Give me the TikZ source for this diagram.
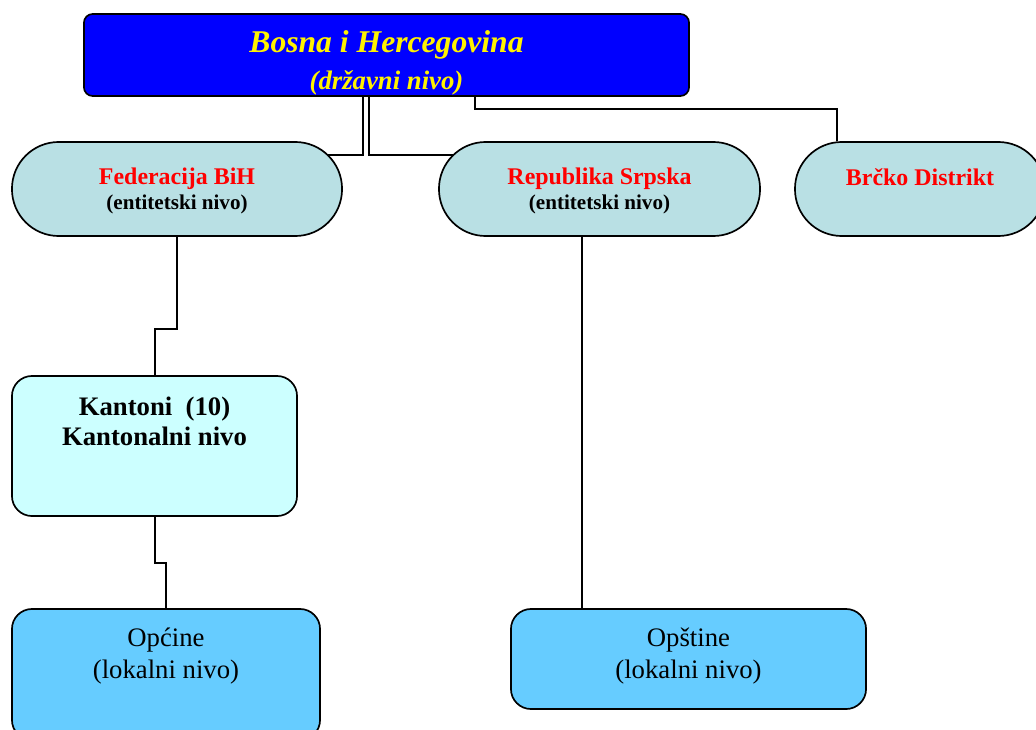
\documentclass[tikz,border=0pt]{standalone}
\usepackage{fontspec}
\setmainfont{Liberation Serif}
\usetikzlibrary{backgrounds}
\definecolor{stateblue}{RGB}{0,0,255}
\definecolor{entityfill}{RGB}{185,224,228}
\definecolor{cantonfill}{RGB}{204,255,255}
\definecolor{localfill}{RGB}{102,204,255}
\tikzset{
  box/.style={draw=black, line width=1.2pt, align=center, inner sep=0pt},
  entity/.style={box, fill=entityfill, minimum height=2.35cm, rounded corners=1.17cm,
    font=\bfseries},
  local/.style={box, fill=localfill, rounded corners=0.5cm,
    font=\fontsize{19}{22.5}\selectfont},
  conn/.style={draw=black, line width=0.9pt},
}
\newcommand{\entname}[1]{{\color{red}\fontsize{17}{19}\selectfont\rule{0pt}{15pt}#1}}
\newcommand{\entlevel}[1]{{\fontsize{15}{17}\selectfont #1}}
\begin{document}
\begin{tikzpicture}[x=0.025cm, y=-0.025cm]
            \useasboundingbox (0,0) rectangle (1036,729);

            \node[box, fill=stateblue, text=yellow, minimum width=15.125cm, minimum height=2.05cm,
                  rounded corners=0.22cm, font=\bfseries\itshape] (bih) at (386.5,55)
                 {{\fontsize{22.5}{26}\selectfont\rule{0pt}{27pt}Bosna i Hercegovina}\\[7pt]
                  {\fontsize{19}{22}\selectfont (državni nivo)}};

            \node[entity, minimum width=8.25cm]  (fbih)  at (177,189)
                 {\entname{Federacija BiH}\\[3pt]\entlevel{(entitetski nivo)}};
            \node[entity, minimum width=8.025cm] (rs)    at (599.5,189)
                 {\entname{Republika Srpska}\\[3pt]\entlevel{(entitetski nivo)}};
            \node[entity, minimum width=6.25cm]  (brcko) at (920,189)
                 {\entname{Brčko Distrikt}\\[8pt]\entlevel{\mbox{}}};

            \node[box, fill=cantonfill, minimum width=7.125cm, minimum height=3.5cm,
                  rounded corners=0.5cm, font=\bfseries\fontsize{19}{21}\selectfont] (kant) at (154.5,446)
                 {Kantoni\ \ (10)\\Kantonalni nivo\\[14pt]\mbox{}};

            \node[local, minimum width=7.7cm, minimum height=3.275cm] (opc) at (166,674.5)
                 {Općine\\(lokalni nivo)\\[7.5pt]\mbox{}};
            \node[local, minimum width=8.875cm, minimum height=2.5cm] (ops) at (688.5,659)
                 {Opštine\\(lokalni nivo)\\[-14pt]\mbox{}};

            \begin{pgfonlayer}{background}
            \draw[conn] (bih.south -| 363,0) |- (fbih.center |- 0,155);
            \draw[conn] (bih.south -| 369,0) |- (rs.center |- 0,155);
            \draw[conn] (bih.south -| 475,0) |- (837,109) -- (brcko.north -| 837,0);
            \draw[conn] (fbih.south -| 177,0) -- (177,329) -| (kant.north -| 155,0);
            \draw[conn] (kant.south -| 155,0) -- (155,563) -| (opc.north -| 166,0);
            \draw[conn] (rs.south -| 582,0) -- (ops.north -| 582,0);
            \end{pgfonlayer}

\end{tikzpicture}
\end{document}
